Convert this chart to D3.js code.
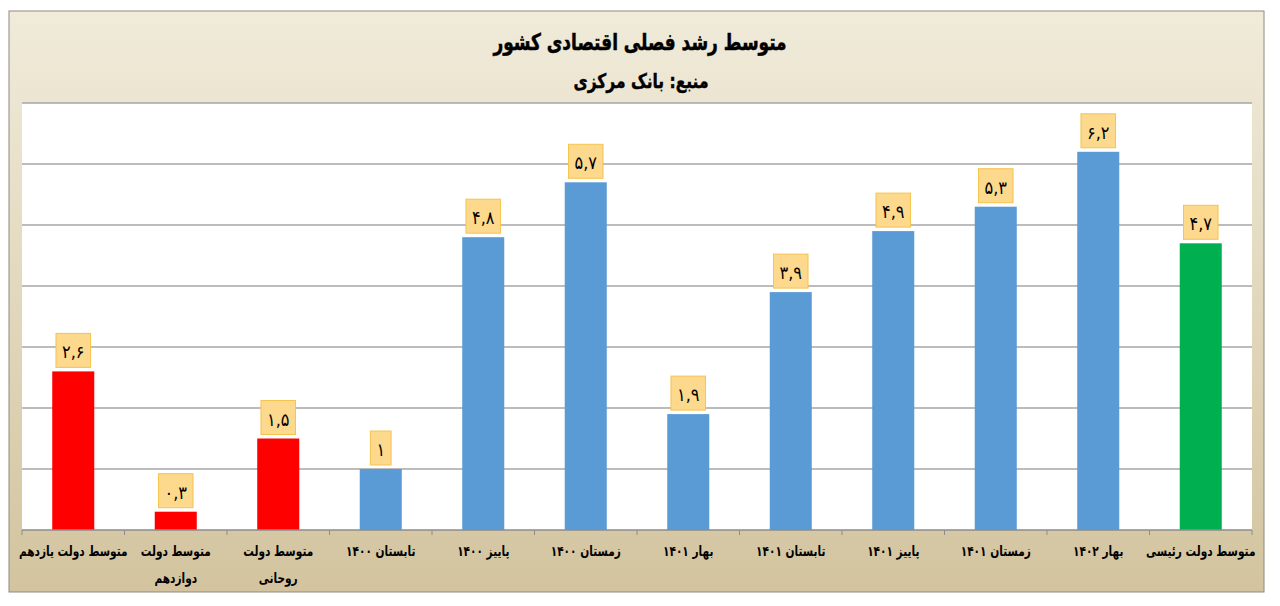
<!DOCTYPE html>
<html>
<head>
<meta charset="utf-8">
<script src="https://cdn.jsdelivr.net/npm/d3@7/dist/d3.min.js"></script>
<style>
  body { margin: 0; background: #fff; }
  svg text { font-family: "DejaVu Sans Condensed", "DejaVu Sans", sans-serif; }
</style>
</head>
<body>
<svg id="chart"></svg>
<script>
let categories = [
    "متوسط دولت یازدهم",
    "متوسط دولت\nدوازدهم",
    "متوسط دولت\nروحانی",
    "تابستان ۱۴۰۰",
    "پاییز ۱۴۰۰",
    "زمستان ۱۴۰۰",
    "بهار ۱۴۰۱",
    "تابستان ۱۴۰۱",
    "پاییز ۱۴۰۱",
    "زمستان ۱۴۰۱",
    "بهار ۱۴۰۲",
    "متوسط دولت رئیسی"
];
let values = [2.6, 0.3, 1.5, 1, 4.8, 5.7, 1.9, 3.9, 4.9, 5.3, 6.2, 4.7];
let groups = ["past", "past", "past", "quarter", "quarter", "quarter", "quarter", "quarter", "quarter", "quarter", "quarter", "raisi"];
let yTicks = [0, 1, 2, 3, 4, 5, 6, 7];
let title = "متوسط رشد فصلی اقتصادی کشور";
let subtitle = "منبع: بانک مرکزی";

let width = 1280;
let height = 606;
let frame = {left: 9, top: 11, right: 1264, bottom: 592};
let plot = {left: 22, top: 103, right: 1252, bottom: 530};

let svg = d3.select('#chart');

let persian = (v) => {
    let digits = '۰۱۲۳۴۵۶۷۸۹';
    return String(v).replace(/[0-9]/g, (c) => digits[+c]).replace('.', ',');
}

let colorScale = d3.scaleOrdinal()
                   .domain(["past", "quarter", "raisi"])
                   .range(["#FF0000", "#5B9BD5", "#00B050"]);

let xScale;
let yScale;

let drawCanvas = () => {
    svg.attr('width', width)
       .attr('height', height);

    let defs = svg.append('defs');
    let grad = defs.append('linearGradient')
                   .attr('id', 'bg')
                   .attr('x1', 0).attr('y1', 0)
                   .attr('x2', 0).attr('y2', 1);
    grad.append('stop').attr('offset', '0%').attr('stop-color', '#F0EBDA');
    grad.append('stop').attr('offset', '100%').attr('stop-color', '#D3C49F');

    svg.append('rect')
       .attr('x', frame.left)
       .attr('y', frame.top)
       .attr('width', frame.right - frame.left)
       .attr('height', frame.bottom - frame.top)
       .attr('fill', 'url(#bg)')
       .attr('stroke', '#8F8A80')
       .attr('stroke-width', 1);

    svg.append('rect')
       .attr('x', plot.left)
       .attr('y', plot.top)
       .attr('width', plot.right - plot.left)
       .attr('height', plot.bottom - plot.top)
       .attr('fill', '#FFFFFF');
}

let generateScales = () => {
    xScale = d3.scaleBand()
               .domain(categories)
               .range([plot.left, plot.right])
               .paddingInner(0.59)
               .paddingOuter(0.295);

    yScale = d3.scaleLinear()
               .domain([0, d3.max(yTicks)])
               .range([plot.bottom, plot.top]);
}

let drawGrid = () => {
    svg.append('g')
       .attr('class', 'grid')
       .selectAll('line')
       .data(yTicks.slice(1))
       .enter()
       .append('line')
       .attr('x1', plot.left)
       .attr('x2', plot.right)
       .attr('y1', (d) => yScale(d))
       .attr('y2', (d) => yScale(d))
       .attr('stroke', '#A6A6A6')
       .attr('stroke-width', 1.3);
}

let drawBars = () => {
    svg.selectAll('.bar')
       .data(values)
       .enter()
       .append('rect')
       .attr('class', 'bar')
       .attr('x', (d, i) => xScale(categories[i]))
       .attr('y', (d) => yScale(d))
       .attr('width', xScale.bandwidth())
       .attr('height', (d) => yScale(0) - yScale(d))
       .attr('fill', (d, i) => colorScale(groups[i]));
}

let drawAxis = () => {
    let step = xScale.step();
    let edges = d3.range(categories.length + 1).map((i) => plot.left + i * step);

    let axis = svg.append('g').attr('id', 'x-axis');
    axis.append('line')
        .attr('x1', plot.left).attr('x2', plot.right)
        .attr('y1', plot.bottom).attr('y2', plot.bottom)
        .attr('stroke', '#8C8C8C')
        .attr('stroke-width', 1.3);
    axis.selectAll('.tick')
        .data(edges)
        .enter()
        .append('line')
        .attr('class', 'tick')
        .attr('x1', (d) => d).attr('x2', (d) => d)
        .attr('y1', plot.bottom).attr('y2', plot.bottom + 5)
        .attr('stroke', '#8C8C8C');

    categories.forEach((d) => {
        let cx = xScale(d) + xScale.bandwidth() / 2;
        d.split('\n').forEach((line, j) => {
            axis.append('text')
                .attr('class', 'cat')
                .attr('transform', 'translate(' + cx + ',' + (plot.bottom + 26 + j * 27) + ') scale(0.84,1)')
                .attr('direction', 'rtl')
                .attr('text-anchor', 'middle')
                .attr('font-weight', 'bold')
                .attr('font-size', 14)
                .attr('fill', '#000')
                .text(line);
        });
    });
}

let drawLabels = () => {
    let g = svg.selectAll('.dlabel')
               .data(values)
               .enter()
               .append('g')
               .attr('class', 'dlabel');

    g.each(function(d, i) {
        let cx = xScale(categories[i]) + xScale.bandwidth() / 2;
        let top = yScale(d);
        let sel = d3.select(this);
        let rect = sel.append('rect');
        let txt = sel.append('text')
                     .attr('x', cx)
                     .attr('y', top - 13)
                     .attr('text-anchor', 'middle')
                     .attr('font-size', 18)
                     .attr('fill', '#000')
                     .text(persian(d));
        let w = txt.node().getComputedTextLength() + 12;
        rect.attr('x', cx - w / 2)
            .attr('y', top - 38)
            .attr('width', w)
            .attr('height', 34)
            .attr('fill', '#FCD98C')
            .attr('stroke', '#F5C34F')
            .attr('stroke-width', 1);
    });
}

let drawTitle = () => {
    svg.append('text')
       .attr('transform', 'translate(640,50) scale(0.82,1)')
       .attr('text-anchor', 'middle')
       .attr('direction', 'rtl')
       .attr('font-weight', 'bold')
       .attr('font-size', 23)
       .attr('stroke', '#000')
       .attr('stroke-width', 0.5)
       .text(title);
    svg.append('text')
       .attr('transform', 'translate(641,88) scale(0.86,1)')
       .attr('text-anchor', 'middle')
       .attr('direction', 'rtl')
       .attr('font-weight', 'bold')
       .attr('font-size', 20)
       .attr('stroke', '#000')
       .attr('stroke-width', 0.4)
       .text(subtitle);
}

drawCanvas();
generateScales();
drawGrid();
drawBars();
drawAxis();
drawLabels();
drawTitle();
</script>
</body>
</html>
